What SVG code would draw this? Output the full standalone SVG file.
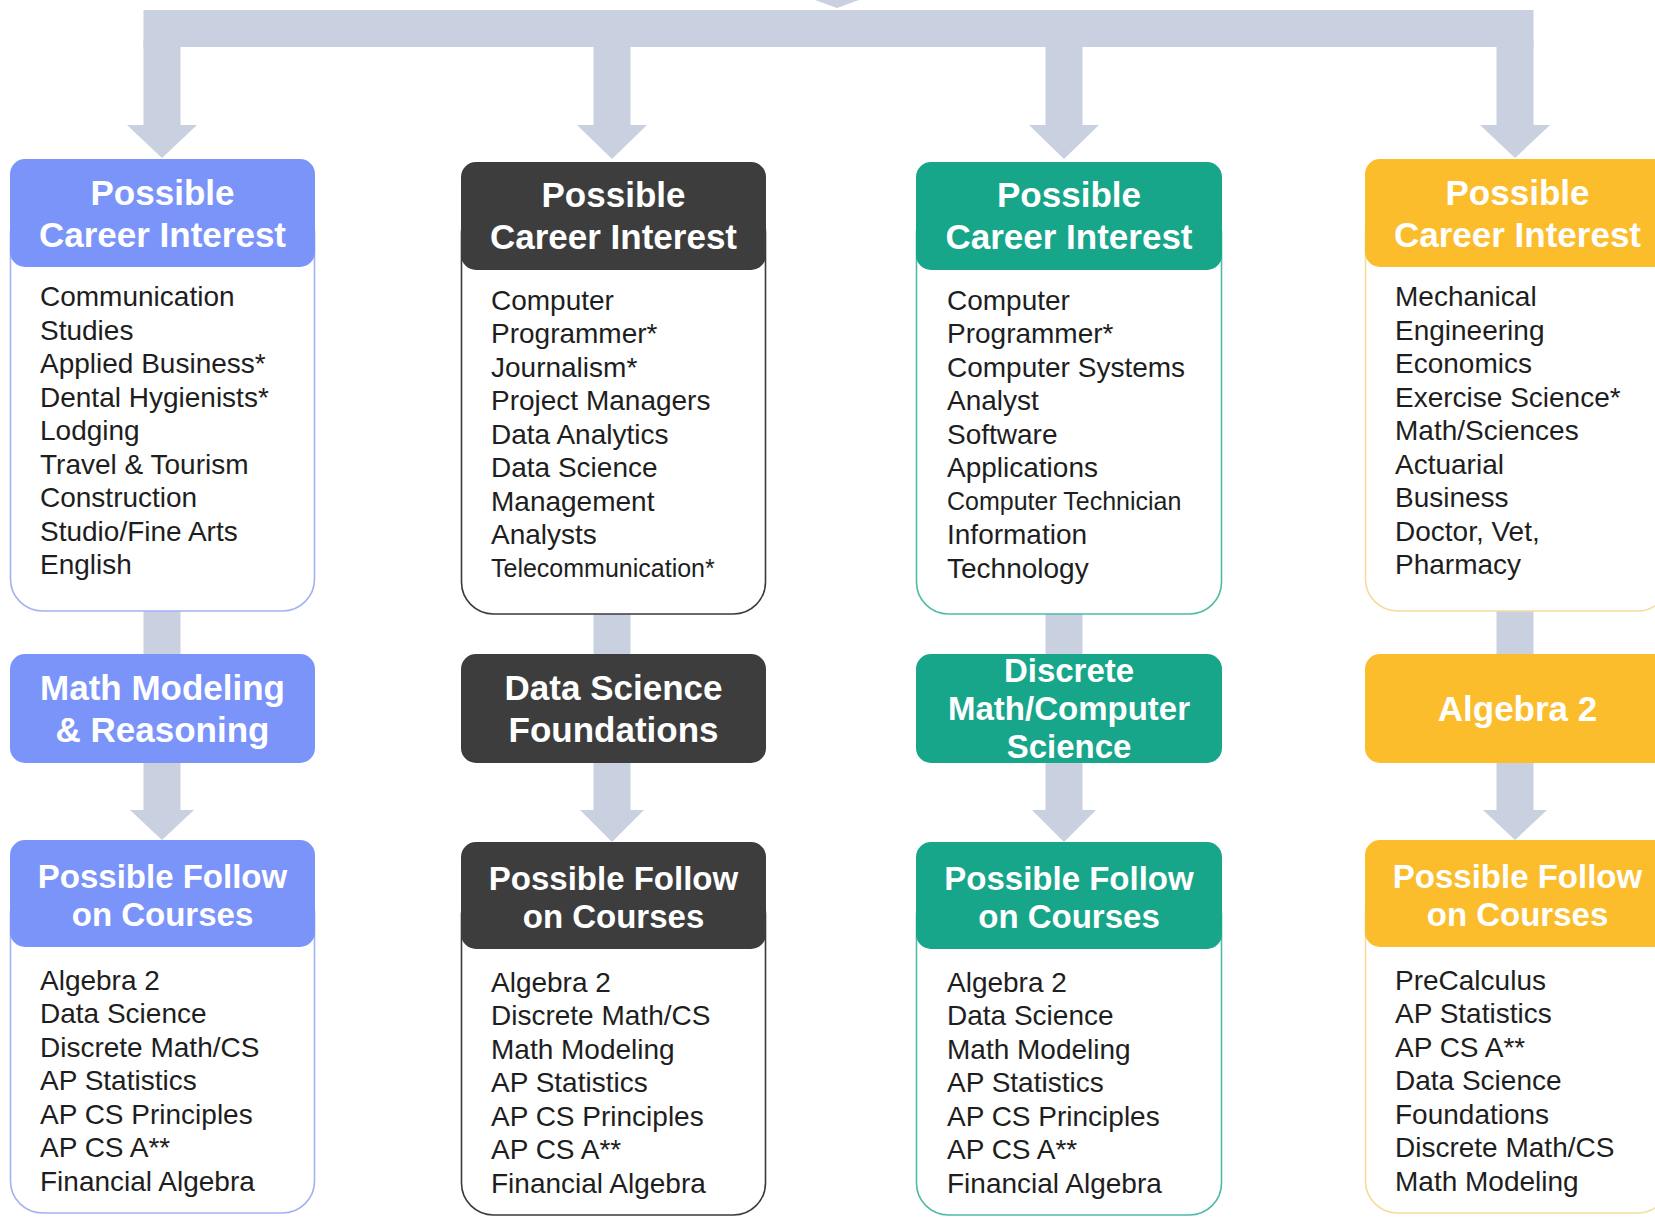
<svg xmlns="http://www.w3.org/2000/svg" width="1655" height="1220" viewBox="0 0 1655 1220">
<style>
.conn{fill:#c9d0df}
.hd{font-family:"Liberation Sans",Arial,sans-serif;font-weight:bold;fill:#ffffff;text-anchor:middle}
.h35{font-size:35px}
.h33{font-size:33px}
.bt{font-family:"Liberation Sans",Arial,sans-serif;font-size:28px;fill:#1e1e1e}
.sm{font-size:25px}
.body{fill:#ffffff;stroke-width:1.6}
.c1 .fillc{fill:#7b94f9}.c1 .body{stroke:#a3b1f2}
.c2 .fillc{fill:#3d3d3d}.c2 .body{stroke:#3a3a3a}
.c3 .fillc{fill:#18a68a}.c3 .body{stroke:#4fbba6}
.c4 .fillc{fill:#fbbd2c}.c4 .body{stroke:#f3dc9c}
</style>
<rect width="1655" height="1220" fill="#ffffff"/>
<g id="connectors">
  <polygon class="conn" points="815,0 859,0 837,8"/>
  <rect class="conn" x="143.5" y="10" width="1390" height="37"/>
  <rect class="conn" x="143.5" y="40" width="37" height="86"/>
  <rect class="conn" x="593.5" y="40" width="37" height="86"/>
  <rect class="conn" x="1045.5" y="40" width="37" height="86"/>
  <rect class="conn" x="1496.5" y="40" width="37" height="86"/>
  <polygon class="conn" points="127,125 197,125 162,158"/>
  <polygon class="conn" points="577,125 647,125 612,159"/>
  <polygon class="conn" points="1029,125 1099,125 1064,159"/>
  <polygon class="conn" points="1480,125 1550,125 1515,158"/>
  <rect class="conn" x="143.5" y="605" width="37" height="55"/>
  <rect class="conn" x="593.5" y="605" width="37" height="55"/>
  <rect class="conn" x="1045.5" y="605" width="37" height="55"/>
  <rect class="conn" x="1496.5" y="605" width="37" height="55"/>
  <rect class="conn" x="143.5" y="755" width="37" height="57"/>
  <rect class="conn" x="593.5" y="755" width="37" height="57"/>
  <rect class="conn" x="1045.5" y="755" width="37" height="57"/>
  <rect class="conn" x="1496.5" y="755" width="37" height="57"/>
  <polygon class="conn" points="130,810 194,810 162,840"/>
  <polygon class="conn" points="580,810 644,810 612,842"/>
  <polygon class="conn" points="1032,810 1096,810 1064,842"/>
  <polygon class="conn" points="1483,810 1547,810 1515,840"/>
</g>

<!-- Column 1 -->
<g id="career1" class="c1">
  <rect class="body" x="10.5" y="200" width="304" height="411" rx="32"/>
  <rect class="fillc" x="10" y="159" width="305" height="108" rx="15"/>
  <text class="hd h35" x="162.5" y="205">Possible</text>
  <text class="hd h35" x="162.5" y="247">Career Interest</text>
  <text class="bt" x="40" y="306">Communication</text>
  <text class="bt" x="40" y="339.5">Studies</text>
  <text class="bt" x="40" y="373">Applied Business*</text>
  <text class="bt" x="40" y="406.5">Dental Hygienists*</text>
  <text class="bt" x="40" y="440">Lodging</text>
  <text class="bt" x="40" y="473.5">Travel &amp; Tourism</text>
  <text class="bt" x="40" y="507">Construction</text>
  <text class="bt" x="40" y="540.5">Studio/Fine Arts</text>
  <text class="bt" x="40" y="574">English</text>
</g>
<g id="course1" class="c1">
  <rect class="fillc" x="10" y="654" width="305" height="109" rx="15"/>
  <text class="hd h35" x="162.5" y="700">Math Modeling</text>
  <text class="hd h35" x="162.5" y="742">&amp; Reasoning</text>
</g>
<g id="follow1" class="c1">
  <rect class="body" x="10.5" y="880" width="304" height="333" rx="32"/>
  <rect class="fillc" x="10" y="840" width="305" height="107" rx="15"/>
  <text class="hd h33" x="162.5" y="888">Possible Follow</text>
  <text class="hd h33" x="162.5" y="926">on Courses</text>
  <text class="bt" x="40" y="989.5">Algebra 2</text>
  <text class="bt" x="40" y="1023">Data Science</text>
  <text class="bt" x="40" y="1056.5">Discrete Math/CS</text>
  <text class="bt" x="40" y="1090">AP Statistics</text>
  <text class="bt" x="40" y="1123.5">AP CS Principles</text>
  <text class="bt" x="40" y="1157">AP CS A**</text>
  <text class="bt" x="40" y="1190.5">Financial Algebra</text>
</g>

<!-- Column 2 -->
<g id="career2" class="c2">
  <rect class="body" x="461.5" y="200" width="304" height="414" rx="32"/>
  <rect class="fillc" x="461" y="162" width="305" height="108" rx="15"/>
  <text class="hd h35" x="613.5" y="207">Possible</text>
  <text class="hd h35" x="613.5" y="249">Career Interest</text>
  <text class="bt" x="491" y="309.5">Computer</text>
  <text class="bt" x="491" y="343">Programmer*</text>
  <text class="bt" x="491" y="376.5">Journalism*</text>
  <text class="bt" x="491" y="410">Project Managers</text>
  <text class="bt" x="491" y="443.5">Data Analytics</text>
  <text class="bt" x="491" y="477">Data Science</text>
  <text class="bt" x="491" y="510.5">Management</text>
  <text class="bt" x="491" y="544">Analysts</text>
  <text class="bt sm" x="491" y="576.5">Telecommunication*</text>
</g>
<g id="course2" class="c2">
  <rect class="fillc" x="461" y="654" width="305" height="109" rx="15"/>
  <text class="hd h35" x="613.5" y="700">Data Science</text>
  <text class="hd h35" x="613.5" y="742">Foundations</text>
</g>
<g id="follow2" class="c2">
  <rect class="body" x="461.5" y="882" width="304" height="333" rx="32"/>
  <rect class="fillc" x="461" y="842" width="305" height="107" rx="15"/>
  <text class="hd h33" x="613.5" y="890">Possible Follow</text>
  <text class="hd h33" x="613.5" y="928">on Courses</text>
  <text class="bt" x="491" y="991.5">Algebra 2</text>
  <text class="bt" x="491" y="1025">Discrete Math/CS</text>
  <text class="bt" x="491" y="1058.5">Math Modeling</text>
  <text class="bt" x="491" y="1092">AP Statistics</text>
  <text class="bt" x="491" y="1125.5">AP CS Principles</text>
  <text class="bt" x="491" y="1159">AP CS A**</text>
  <text class="bt" x="491" y="1192.5">Financial Algebra</text>
</g>

<!-- Column 3 -->
<g id="career3" class="c3">
  <rect class="body" x="916.5" y="200" width="305" height="414" rx="32"/>
  <rect class="fillc" x="916" y="162" width="306" height="108" rx="15"/>
  <text class="hd h35" x="1069" y="207">Possible</text>
  <text class="hd h35" x="1069" y="249">Career Interest</text>
  <text class="bt" x="947" y="309.5">Computer</text>
  <text class="bt" x="947" y="343">Programmer*</text>
  <text class="bt" x="947" y="376.5">Computer Systems</text>
  <text class="bt" x="947" y="410">Analyst</text>
  <text class="bt" x="947" y="443.5">Software</text>
  <text class="bt" x="947" y="477">Applications</text>
  <text class="bt sm" x="947" y="509.5">Computer Technician</text>
  <text class="bt" x="947" y="544">Information</text>
  <text class="bt" x="947" y="577.5">Technology</text>
</g>
<g id="course3" class="c3">
  <rect class="fillc" x="916" y="654" width="306" height="109" rx="15"/>
  <text class="hd h33" x="1069" y="682">Discrete</text>
  <text class="hd h33" x="1069" y="720">Math/Computer</text>
  <text class="hd h33" x="1069" y="758">Science</text>
</g>
<g id="follow3" class="c3">
  <rect class="body" x="916.5" y="882" width="305" height="333" rx="32"/>
  <rect class="fillc" x="916" y="842" width="306" height="107" rx="15"/>
  <text class="hd h33" x="1069" y="890">Possible Follow</text>
  <text class="hd h33" x="1069" y="928">on Courses</text>
  <text class="bt" x="947" y="991.5">Algebra 2</text>
  <text class="bt" x="947" y="1025">Data Science</text>
  <text class="bt" x="947" y="1058.5">Math Modeling</text>
  <text class="bt" x="947" y="1092">AP Statistics</text>
  <text class="bt" x="947" y="1125.5">AP CS Principles</text>
  <text class="bt" x="947" y="1159">AP CS A**</text>
  <text class="bt" x="947" y="1192.5">Financial Algebra</text>
</g>

<!-- Column 4 -->
<g id="career4" class="c4">
  <rect class="body" x="1365.5" y="200" width="304" height="411" rx="32"/>
  <rect class="fillc" x="1365" y="159" width="305" height="108" rx="15"/>
  <text class="hd h35" x="1517.5" y="205">Possible</text>
  <text class="hd h35" x="1517.5" y="247">Career Interest</text>
  <text class="bt" x="1395" y="306">Mechanical</text>
  <text class="bt" x="1395" y="339.5">Engineering</text>
  <text class="bt" x="1395" y="373">Economics</text>
  <text class="bt" x="1395" y="406.5">Exercise Science*</text>
  <text class="bt" x="1395" y="440">Math/Sciences</text>
  <text class="bt" x="1395" y="473.5">Actuarial</text>
  <text class="bt" x="1395" y="507">Business</text>
  <text class="bt" x="1395" y="540.5">Doctor, Vet,</text>
  <text class="bt" x="1395" y="574">Pharmacy</text>
</g>
<g id="course4" class="c4">
  <rect class="fillc" x="1365" y="654" width="305" height="109" rx="15"/>
  <text class="hd h35" x="1517.5" y="721">Algebra 2</text>
</g>
<g id="follow4" class="c4">
  <rect class="body" x="1365.5" y="880" width="304" height="333" rx="32"/>
  <rect class="fillc" x="1365" y="840" width="305" height="107" rx="15"/>
  <text class="hd h33" x="1517.5" y="888">Possible Follow</text>
  <text class="hd h33" x="1517.5" y="926">on Courses</text>
  <text class="bt" x="1395" y="989.5">PreCalculus</text>
  <text class="bt" x="1395" y="1023">AP Statistics</text>
  <text class="bt" x="1395" y="1056.5">AP CS A**</text>
  <text class="bt" x="1395" y="1090">Data Science</text>
  <text class="bt" x="1395" y="1123.5">Foundations</text>
  <text class="bt" x="1395" y="1157">Discrete Math/CS</text>
  <text class="bt" x="1395" y="1190.5">Math Modeling</text>
</g>
</svg>
